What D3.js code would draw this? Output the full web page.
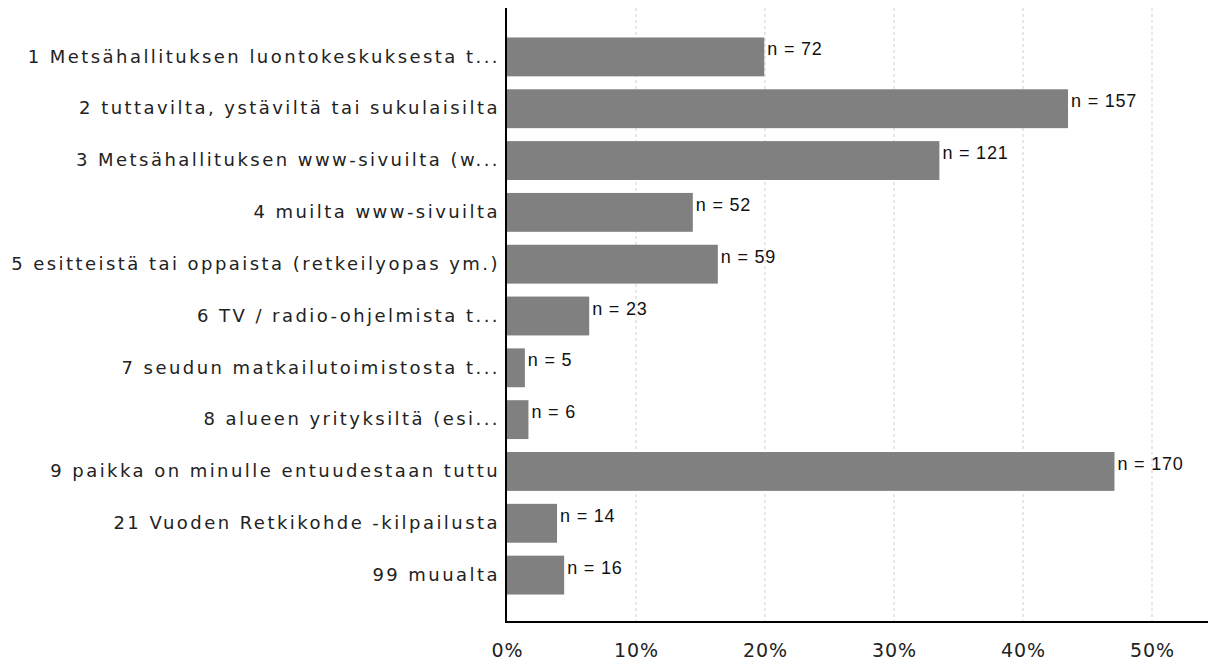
<!DOCTYPE html>
<html><head><meta charset="utf-8">
<script src="https://cdn.jsdelivr.net/npm/d3@7"></script>
<style>html,body{margin:0;padding:0;background:#fff;}</style>
</head><body>
<svg id="c" width="1208" height="664"></svg>
<script>
const categories = [
  "1 Metsähallituksen luontokeskuksesta t...",
  "2 tuttavilta, ystäviltä tai sukulaisilta",
  "3 Metsähallituksen www-sivuilta (w...",
  "4 muilta www-sivuilta",
  "5 esitteistä tai oppaista (retkeilyopas ym.)",
  "6 TV / radio-ohjelmista t...",
  "7 seudun matkailutoimistosta t...",
  "8 alueen yrityksiltä (esi...",
  "9 paikka on minulle entuudestaan tuttu",
  "21 Vuoden Retkikohde -kilpailusta",
  "99 muualta"
];
const counts = [72, 157, 121, 52, 59, 23, 5, 6, 170, 14, 16];
const respondents = 361;
const tickValues = [0, 0.1, 0.2, 0.3, 0.4, 0.5];

const svg = d3.select("#c");
const x = d3.scaleLinear().domain([0, 0.5]).range([507, 1152]);
const y = d3.scaleBand().domain(categories).range([31, 601]).paddingInner(0.25).paddingOuter(0.125);

// gridlines
svg.append("g").selectAll("line").data(tickValues.slice(1)).join("line")
  .attr("x1", d => x(d)).attr("x2", d => x(d))
  .attr("y1", 8).attr("y2", 622)
  .attr("stroke", "#cfcfcf").attr("stroke-dasharray", "3,3").attr("stroke-width", 1);

// bars
svg.append("g").selectAll("rect").data(categories).join("rect")
  .attr("x", x(0))
  .attr("y", d => y(d))
  .attr("width", (d, i) => x(counts[i] / respondents) - x(0))
  .attr("height", y.bandwidth())
  .attr("fill", "#808080");

// value labels
svg.append("g").selectAll("text").data(categories).join("text")
  .attr("x", (d, i) => x(counts[i] / respondents) + 3)
  .attr("y", d => y(d) + 18)
  .attr("font-family", "Liberation Sans, Arial, sans-serif")
  .attr("font-size", 18)
  .attr("letter-spacing", 0.8)
  .attr("fill", "#111")
  .text((d, i) => "n = " + counts[i]);

// y axis
const yAxis = d3.axisLeft(y).tickSize(0).tickPadding(7);
const gy = svg.append("g").attr("transform", `translate(${x(0)},0)`).call(yAxis);
gy.select(".domain").remove();
gy.selectAll("text").attr("font-family", "DejaVu Sans, Verdana, sans-serif").attr("font-size", 18)
  .attr("letter-spacing", 2.45).attr("fill", "#222");
svg.append("line").attr("x1", x(0) - 1).attr("x2", x(0) - 1).attr("y1", 8).attr("y2", 622).attr("stroke", "#000").attr("stroke-width", 2);

// x axis
const xAxis = d3.axisBottom(x).tickValues(tickValues).tickFormat(d3.format(".0%")).tickSize(0).tickPadding(22);
const gx = svg.append("g").attr("transform", "translate(0,622)").call(xAxis);
gx.select(".domain").remove();
gx.selectAll("text").attr("font-family", "DejaVu Sans, Verdana, sans-serif").attr("font-size", 19)
  .attr("letter-spacing", 1).attr("fill", "#222");
svg.append("line").attr("x1", x(0) - 2).attr("x2", 1208).attr("y1", 622).attr("y2", 622).attr("stroke", "#000").attr("stroke-width", 2);
</script>
</body></html>
